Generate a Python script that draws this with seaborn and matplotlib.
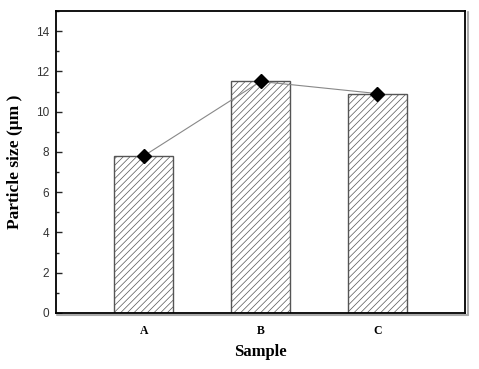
import numpy as np
import pandas as pd
import seaborn as sns
import matplotlib.pyplot as plt
from matplotlib.ticker import MultipleLocator

samples = ['A', 'B', 'C']
sizes = [7.8, 11.5, 10.9]
y_ticks = [0, 2, 4, 6, 8, 10, 12, 14]

df = pd.DataFrame({'Sample': samples, 'size': sizes})

sns.set_style('ticks')
plt.rcParams['hatch.color'] = '#808080'
plt.rcParams['hatch.linewidth'] = 0.5
plt.rcParams['text.color'] = 'black'
plt.rcParams['axes.labelcolor'] = 'black'

fig = plt.figure(figsize=(4.79, 3.69), dpi=100)
ax = fig.add_axes([0.117, 0.152, 0.854, 0.818])

sns.barplot(data=df, x='Sample', y='size', ax=ax, width=0.5,
            color='white', edgecolor='#555555', linewidth=1.0,
            hatch='/////', saturation=1)

# line + diamond markers
ax.plot(range(len(samples)), sizes, color='#888888', lw=0.8, zorder=3)
ax.plot(range(len(samples)), sizes, ls='none', marker='D', ms=7.5,
        color='black', zorder=4)

ax.set_xlim(-0.75, 2.75)
ax.set_ylim(0, 15)
ax.set_yticks(y_ticks)
ax.yaxis.set_minor_locator(MultipleLocator(1))
ax.tick_params(axis='y', which='both', direction='in', labelsize=8.5,
               labelcolor='#333333', width=1.0, pad=5)
ax.tick_params(axis='y', which='major', length=4)
ax.tick_params(axis='y', which='minor', length=2.5)
ax.tick_params(axis='x', length=0, pad=9, labelcolor='black')
for lbl in ax.get_yticklabels():
    lbl.set_family('Liberation Sans')
for lbl in ax.get_xticklabels():
    lbl.set_family('Liberation Serif')
    lbl.set_fontweight('bold')
    lbl.set_fontsize(8.5)

for s in ax.spines.values():
    s.set_visible(True)
    s.set_linewidth(1.3)
    s.set_color('black')

# grey shadow on right and bottom
ax.plot([1.006, 1.006], [-0.006, 0.996], transform=ax.transAxes,
        color='#aaaaaa', lw=1.5, clip_on=False)
ax.plot([0.003, 1.006], [-0.006, -0.006], transform=ax.transAxes,
        color='#aaaaaa', lw=1.5, clip_on=False)

ax.set_xlabel('Sample', family='Liberation Serif', fontweight='bold',
              fontsize=12, labelpad=5)
ax.set_ylabel('Particle size (\u03bcm )', family='Liberation Serif',
              fontweight='bold', fontsize=12.5, labelpad=9)

fig.savefig('out.png', dpi=100)
